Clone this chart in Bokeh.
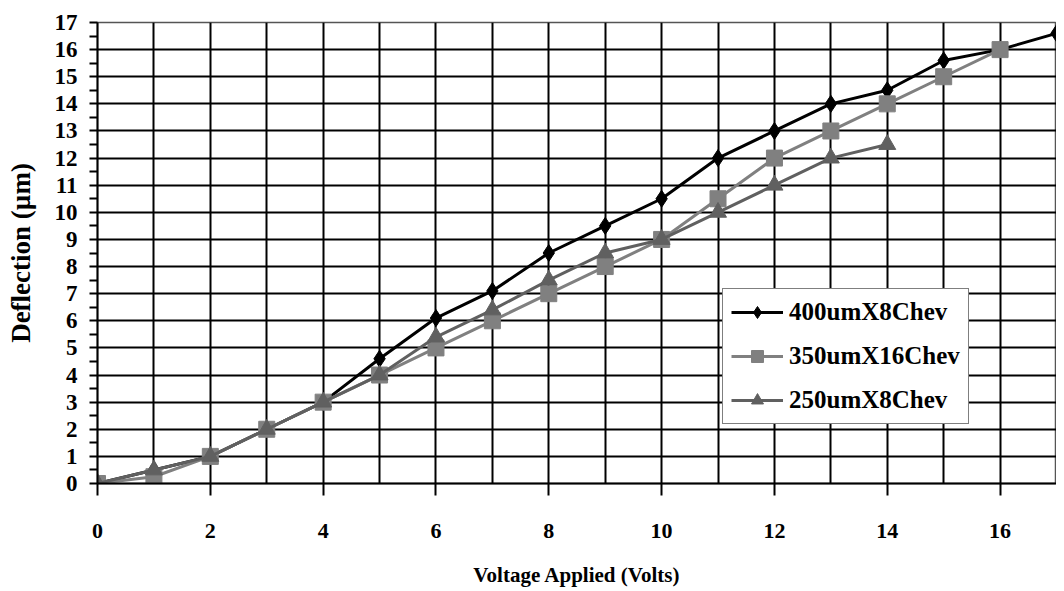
from bokeh.plotting import figure
from bokeh.models import FixedTicker, SingleIntervalTicker, Range1d, Legend, LegendItem
from bokeh.embed import file_html
from bokeh.resources import INLINE

# Data
volts_400 = [0, 1, 2, 3, 4, 5, 6, 7, 8, 9, 10, 11, 12, 13, 14, 15, 16, 17]
defl_400 = [0, 0.5, 1, 2, 3, 4.6, 6.1, 7.1, 8.5, 9.5, 10.5, 12, 13, 14, 14.5, 15.6, 16, 16.6]

volts_350 = [0, 1, 2, 3, 4, 5, 6, 7, 8, 9, 10, 11, 12, 13, 14, 15, 16]
defl_350 = [0, 0.25, 1, 2, 3, 4, 5, 6, 7, 8, 9, 10.5, 12, 13, 14, 15, 16]

volts_250 = [0, 1, 2, 3, 4, 5, 6, 7, 8, 9, 10, 11, 12, 13, 14]
defl_250 = [0, 0.5, 1, 2, 3, 4, 5.4, 6.4, 7.5, 8.5, 9, 10, 11, 12, 12.5]

names = ["400umX8Chev", "350umX16Chev", "250umX8Chev"]
x_ticks = [0, 2, 4, 6, 8, 10, 12, 14, 16]
y_ticks = list(range(0, 18))

FONT = "Liberation Serif"

p = figure(width=1056, height=590, output_backend="svg", toolbar_location=None,
           x_range=Range1d(0, 17), y_range=Range1d(0, 17),
           min_border_left=97, min_border_right=0, min_border_top=22, min_border_bottom=107)
p.background_fill_color = "white"
p.border_fill_color = "white"
p.outline_line_color = "#555555"
p.outline_line_width = 1.5

# grids
p.xgrid.ticker = SingleIntervalTicker(interval=1)
p.ygrid.ticker = SingleIntervalTicker(interval=1)
for g in (p.xgrid[0], p.ygrid[0]):
    g.grid_line_color = "black"
    g.grid_line_width = 2
    g.grid_line_alpha = 1.0

# axes
p.xaxis.ticker = FixedTicker(ticks=x_ticks)
p.yaxis.ticker = FixedTicker(ticks=y_ticks, minor_ticks=[v + 0.5 for v in y_ticks[:-1]])
for ax in (p.xaxis[0], p.yaxis[0]):
    ax.axis_line_color = "black"
    ax.axis_line_width = 2
    ax.major_tick_line_color = "black"
    ax.major_tick_line_width = 2
    ax.major_tick_in = 0
    ax.major_label_text_font = FONT
    ax.major_label_text_font_style = "bold"
    ax.major_label_text_color = "black"
    ax.axis_label_text_font = FONT
    ax.axis_label_text_font_style = "bold"
    ax.axis_label_text_color = "black"

p.xaxis.major_label_text_font_size = "22px"
p.xaxis.axis_label_text_font_size = "21px"
p.xaxis.major_tick_out = 12
p.xaxis.minor_tick_line_color = None
p.xaxis.major_label_standoff = 28
p.xaxis.axis_label = "Voltage Applied (Volts)"
p.xaxis.axis_label_standoff = 22

p.yaxis.major_label_text_font_size = "23px"
p.yaxis.axis_label_text_font_size = "27px"
p.yaxis.major_tick_out = 8
p.yaxis.minor_tick_out = 8
p.yaxis.minor_tick_in = 0
p.yaxis.minor_tick_line_color = "black"
p.yaxis.minor_tick_line_width = 2
p.yaxis.major_label_standoff = 12
p.yaxis.axis_label = "Deflection (µm)"
p.yaxis.axis_label_standoff = 16

# series
c1, c2, c3 = "black", "#808080", "#606060"
l1 = p.line(volts_400, defl_400, line_color=c1, line_width=3)
m1 = p.scatter(volts_400, defl_400, marker="diamond", size=17, fill_color=c1, line_color=c1)
l2 = p.line(volts_350, defl_350, line_color=c2, line_width=3)
m2 = p.scatter(volts_350, defl_350, marker="square", size=16, fill_color=c2, line_color=c2)
l3 = p.line(volts_250, defl_250, line_color=c3, line_width=3)
m3 = p.scatter(volts_250, defl_250, marker="triangle", size=17, fill_color=c3, line_color=c3)

legend = Legend(items=[
    LegendItem(label=names[0], renderers=[l1, m1]),
    LegendItem(label=names[1], renderers=[l2, m2]),
    LegendItem(label=names[2], renderers=[l3, m3]),
], location=(625, 59))
legend.border_line_color = "black"
legend.border_line_width = 1.5
legend.background_fill_color = "white"
legend.background_fill_alpha = 1.0
legend.label_text_font = FONT
legend.label_text_font_style = "bold"
legend.label_text_font_size = "25px"
legend.label_text_color = "black"
legend.glyph_width = 52
legend.glyph_height = 30
legend.label_height = 30
legend.spacing = 14
legend.padding = 8
legend.margin = 0
legend.label_standoff = 6
p.add_layout(legend, "center")

open("out.html", "w").write(file_html(p, INLINE))
